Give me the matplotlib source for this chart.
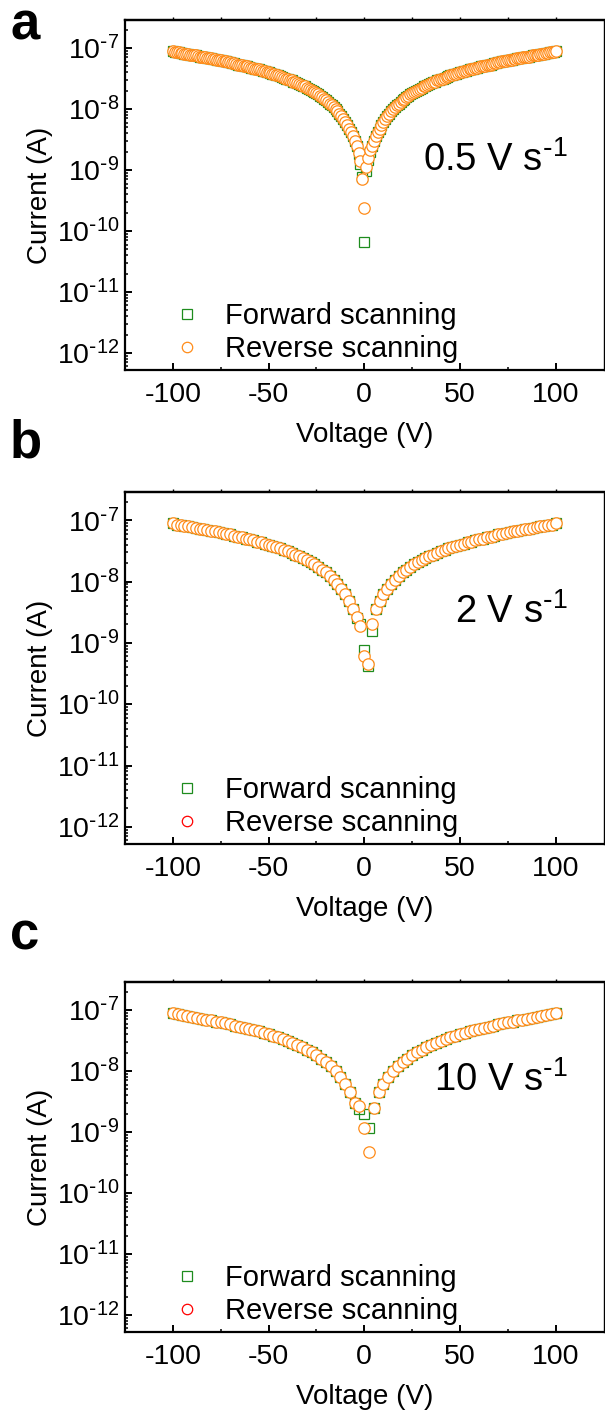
import numpy as np
import matplotlib
matplotlib.use("Agg")
import matplotlib.pyplot as plt
from matplotlib.lines import Line2D
from matplotlib.ticker import (LogLocator, MultipleLocator, NullFormatter, FuncFormatter,
                               FixedLocator)

plt.rcParams['font.family'] = ['Liberation Sans', 'DejaVu Sans']
plt.rcParams['mathtext.default'] = 'regular'
plt.rcParams['axes.unicode_minus'] = False

# ---- data: log10 of current (A) ----
# panel a, 0.5 V/s, 1 V step; both sweeps overlap on the branches
volt_a = np.arange(-100, 101, 1)
branch_a_neg = [-7.05, -7.06, -7.07, -7.07, -7.08, -7.08, -7.09, -7.10, -7.10, -7.11,
                -7.11, -7.12, -7.12, -7.13, -7.14, -7.14, -7.15, -7.15, -7.16, -7.16,
                -7.17, -7.18, -7.18, -7.19, -7.20, -7.20, -7.21, -7.22, -7.22, -7.23,
                -7.23, -7.24, -7.25, -7.26, -7.27, -7.27, -7.28, -7.29, -7.30, -7.30,
                -7.31, -7.32, -7.33, -7.34, -7.35, -7.35, -7.36, -7.37, -7.38, -7.39,
                -7.40, -7.41, -7.42, -7.43, -7.44, -7.45, -7.46, -7.47, -7.49, -7.50,
                -7.51, -7.52, -7.53, -7.55, -7.56, -7.57, -7.59, -7.60, -7.62, -7.63,
                -7.65, -7.67, -7.68, -7.70, -7.72, -7.74, -7.76, -7.78, -7.81, -7.83,
                -7.85, -7.88, -7.91, -7.94, -7.97, -8.00, -8.04, -8.08, -8.12, -8.16,
                -8.21, -8.26, -8.32, -8.38, -8.45, -8.52, -8.60]
branch_a_pos = [-8.60, -8.52, -8.45, -8.38, -8.32, -8.26, -8.21, -8.16, -8.12, -8.08,
                -8.04, -8.00, -7.97, -7.94, -7.91, -7.88, -7.85, -7.83, -7.81, -7.78,
                -7.76, -7.74, -7.72, -7.70, -7.68, -7.67, -7.65, -7.63, -7.62, -7.60,
                -7.59, -7.57, -7.56, -7.55, -7.53, -7.52, -7.51, -7.50, -7.49, -7.47,
                -7.46, -7.45, -7.44, -7.43, -7.42, -7.41, -7.40, -7.39, -7.38, -7.37,
                -7.36, -7.35, -7.35, -7.34, -7.33, -7.32, -7.31, -7.30, -7.30, -7.29,
                -7.28, -7.27, -7.27, -7.26, -7.25, -7.24, -7.23, -7.23, -7.22, -7.22,
                -7.21, -7.20, -7.20, -7.19, -7.18, -7.18, -7.17, -7.16, -7.16, -7.15,
                -7.15, -7.14, -7.14, -7.13, -7.12, -7.12, -7.11, -7.11, -7.10, -7.10,
                -7.09, -7.08, -7.08, -7.07, -7.07, -7.06, -7.05]
fwd_a_mid = [-8.74, -8.90, -9.12, -10.18, -9.02, -8.84, -8.70]   # -3..3 V
rev_a_mid = [-8.72, -8.86, -9.15, -9.62, -8.95, -8.80, -8.68]

# panel b, 2 V/s, 2 V step
volt_b = np.arange(-100, 101, 2)
branch_b_neg = [-7.05, -7.07, -7.08, -7.09, -7.10, -7.11, -7.12, -7.14, -7.15, -7.16,
                -7.17, -7.18, -7.20, -7.21, -7.22, -7.23, -7.25, -7.27, -7.28, -7.30,
                -7.31, -7.33, -7.35, -7.36, -7.38, -7.40, -7.42, -7.44, -7.46, -7.49,
                -7.51, -7.53, -7.56, -7.59, -7.62, -7.65, -7.68, -7.72, -7.76, -7.81,
                -7.85, -7.91, -7.97, -8.04, -8.12, -8.21, -8.32, -8.45]
branch_b_pos = [-8.45, -8.32, -8.21, -8.12, -8.04, -7.97, -7.91, -7.85, -7.81, -7.76,
                -7.72, -7.68, -7.65, -7.62, -7.59, -7.56, -7.53, -7.51, -7.49, -7.46,
                -7.44, -7.42, -7.40, -7.38, -7.36, -7.35, -7.33, -7.31, -7.30, -7.28,
                -7.27, -7.25, -7.23, -7.22, -7.21, -7.20, -7.18, -7.17, -7.16, -7.15,
                -7.14, -7.12, -7.11, -7.10, -7.09, -7.08, -7.07, -7.05]
fwd_b_mid = [-8.60, -8.70, -9.12, -9.38, -8.80]   # -4..4 V
rev_b_mid = [-8.58, -8.72, -9.22, -9.35, -8.70]

# panel c, 10 V/s, 2.5 V step
volt_c = np.arange(-100, 100.1, 2.5)
branch_c_neg = [-7.05, -7.07, -7.08, -7.10, -7.11, -7.13, -7.14, -7.16, -7.17, -7.19,
                -7.20, -7.22, -7.23, -7.26, -7.27, -7.30, -7.31, -7.33, -7.35, -7.38,
                -7.40, -7.42, -7.45, -7.48, -7.51, -7.54, -7.57, -7.61, -7.65, -7.69,
                -7.74, -7.80, -7.85, -7.92, -8.00, -8.10, -8.21, -8.35, -8.52]
branch_c_pos = [-8.60, -8.35, -8.21, -8.10, -8.00, -7.92, -7.85, -7.80, -7.74, -7.69,
                -7.65, -7.61, -7.57, -7.54, -7.51, -7.48, -7.45, -7.42, -7.40, -7.38,
                -7.35, -7.33, -7.31, -7.30, -7.27, -7.26, -7.23, -7.22, -7.20, -7.19,
                -7.17, -7.16, -7.14, -7.13, -7.11, -7.10, -7.08, -7.07, -7.05]
fwd_c_mid = [-8.62, -8.70, -8.93]   # -2.5..2.5 V
rev_c_mid = [-8.57, -8.93, -9.33]

y_major = [1e-12, 1e-11, 1e-10, 1e-9, 1e-8, 1e-7]
rates = [r'0.5 V s$^{\text{-}1}$', r'2 V s$^{\text{-}1}$', r'10 V s$^{\text{-}1}$']
letters = ['a', 'b', 'c']
rev_legend_colors = ['#FF8C1A', '#FF0000', '#FF0000']

panels = [
    (volt_a, branch_a_neg + fwd_a_mid + branch_a_pos, branch_a_neg + rev_a_mid + branch_a_pos),
    (volt_b, branch_b_neg + fwd_b_mid + branch_b_pos, branch_b_neg + rev_b_mid + branch_b_pos),
    (volt_c, branch_c_neg + fwd_c_mid + branch_c_pos, branch_c_neg + rev_c_mid + branch_c_pos),
]

green = '#1E8C1E'
orange = '#FF8C1A'


def sci_label(v, pos):
    e = int(round(np.log10(v)))
    if e < 0:
        return r'$10^{\text{-}%d}$' % (-e)
    return r'$10^{%d}$' % e


W, H = 605, 1410
fig = plt.figure(figsize=(W / 100, H / 100), dpi=100)

# axes boxes in pixels (top, bottom)
boxes = [(20, 370), (492, 844), (982, 1332)]
left_px, right_px = 125, 603.5
rate_y = [0.60, 0.66, 0.72]
letter_base = [40, 457, 950]

for i, (volt, fwd, rev) in enumerate(panels):
    top, bot = boxes[i]
    ax = fig.add_axes([left_px / W, 1 - bot / H, (right_px - left_px) / W, (bot - top) / H])
    ax.plot(volt, 10 ** np.array(fwd), 's', ms=7.6, mfc='none', mec=green, mew=0.9)
    ax.plot(volt, 10 ** np.array(rev), 'o', ms=8.2, mfc='white', mec=orange, mew=0.9)

    ax.set_yscale('log')
    ax.set_ylim(10 ** -12.28, 10 ** -6.54)
    ax.set_xlim(-125, 125)
    ax.yaxis.set_major_locator(FixedLocator(y_major))
    ax.yaxis.set_major_formatter(FuncFormatter(sci_label))
    ax.yaxis.set_minor_locator(LogLocator(base=10, subs=np.arange(2, 10), numticks=20))
    ax.yaxis.set_minor_formatter(NullFormatter())
    ax.xaxis.set_major_locator(FixedLocator([-100, -50, 0, 50, 100]))
    ax.xaxis.set_minor_locator(FixedLocator([-75, -25, 25, 75]))

    ax.tick_params(which='both', direction='in', top=False, right=False,
                   labelsize=20.5, width=1.4)
    ax.tick_params(which='major', length=5)
    ax.tick_params(which='minor', length=2.5, width=1.1)
    ax.tick_params(axis='x', which='major', pad=9)
    ax.tick_params(axis='y', which='major', pad=4)
    for s in ax.spines.values():
        s.set_linewidth(1.6)
    ax.spines['right'].set_linewidth(1.0)

    # small tick marks on the top edge
    sec = ax.secondary_xaxis('top')
    sec.xaxis.set_major_locator(FixedLocator([-100, -75, -50, -25, 0, 25, 50, 75, 100]))
    sec.tick_params(direction='out', length=2, width=1.0, labeltop=False)
    sec.spines['top'].set_linewidth(1.6)

    ax.set_xlabel('Voltage (V)', fontsize=20, labelpad=10)
    ax.set_ylabel('Current (A)', fontsize=20)
    ax.yaxis.set_label_coords(-0.15, 0.5)

    ax.text(0.926, rate_y[i], rates[i], transform=ax.transAxes, ha='right', va='center',
            fontsize=27.5)

    handles = [Line2D([], [], ls='none', marker='s', ms=7, mfc='none', mec=green, mew=0.9),
               Line2D([], [], ls='none', marker='o', ms=7.5, mfc='none',
                      mec=rev_legend_colors[i], mew=0.9)]
    ax.legend(handles, ['Forward scanning', 'Reverse scanning'], loc='lower left',
              bbox_to_anchor=(0.10, 0.02), frameon=False, fontsize=21,
              borderpad=0, borderaxespad=0, handlelength=1.0, handletextpad=0.8,
              labelspacing=0.16)

    fig.text(10 / W, 1 - letter_base[i] / H, letters[i], fontsize=38, fontweight='bold',
             va='baseline', ha='left')

fig.savefig('out.png', dpi=100)
